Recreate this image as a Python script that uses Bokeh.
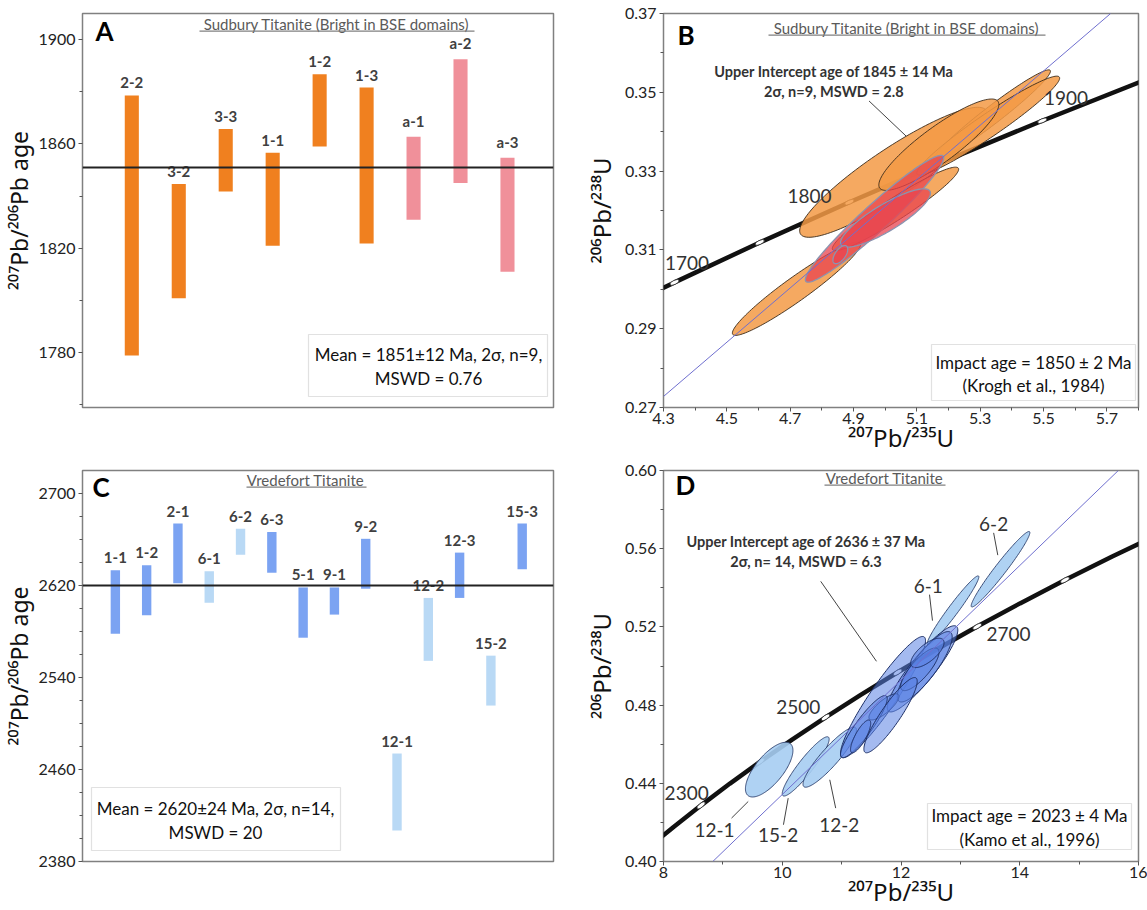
import numpy as np
from bokeh.plotting import figure
from bokeh.layouts import gridplot
from bokeh.models import Range1d, Label, BoxAnnotation, FixedTicker, ColumnDataSource, PrintfTickFormatter, Span
from bokeh.core.properties import value
from bokeh.embed import file_html
from bokeh.resources import INLINE

FONT = "Lato"
LABEL_FONT = "Noto Sans"

# ---------------- Panel A: Sudbury 207Pb/206Pb ages ----------------
a_labels = ["2-2", "3-2", "3-3", "1-1", "1-2", "1-3", "a-1", "a-2", "a-3"]
a_top = [1878.6, 1844.7, 1865.7, 1856.6, 1886.7, 1881.6, 1862.8, 1892.5, 1854.7]
a_bottom = [1778.9, 1800.9, 1841.8, 1821.0, 1859.0, 1821.9, 1831.0, 1845.0, 1811.0]
a_group = ["bright"] * 6 + ["other"] * 3
a_mean = 1851
a_yticks = [1780, 1820, 1860, 1900]

# ---------------- Panel C: Vredefort 207Pb/206Pb ages ----------------
c_labels = ["1-1", "1-2", "2-1", "6-1", "6-2", "6-3", "5-1", "9-1", "9-2",
            "12-1", "12-2", "12-3", "15-2", "15-3"]
c_top = [2633.3, 2637.6, 2673.9, 2632.5, 2669.4, 2666.5, 2618.3, 2618.3, 2660.6,
         2473.9, 2609.2, 2648.6, 2559.0, 2673.9]
c_bottom = [2578.0, 2594.2, 2622.0, 2605.0, 2646.7, 2631.1, 2574.6, 2594.7, 2617.2,
            2406.9, 2554.5, 2609.2, 2515.6, 2634.2]
c_group = ["main", "main", "main", "pale", "pale", "main", "main", "main", "main",
           "pale", "pale", "main", "pale", "main"]
c_mean = 2620
c_yticks = [2380, 2460, 2540, 2620, 2700]

# ---------------- Panel B: Sudbury concordia ----------------
b_con_age = [1650, 1700, 1750, 1800, 1850, 1900, 1950]
b_con_x = [4.0784, 4.3348, 4.6040, 4.8869, 5.1840, 5.4962, 5.8241]
b_con_y = [0.29170, 0.30175, 0.31189, 0.32210, 0.33240, 0.34278, 0.35323]
b_disc_x = [4.30, 5.712]
b_disc_y = [0.2728, 0.370]
# error ellipses: centre, half extent in x and y, correlation
b_cx = [4.720, 5.026, 5.3375, 5.3255, 5.1695, 5.0325, 4.9665, 5.001, 4.8585]
b_cy = [0.30015, 0.3297, 0.3442, 0.34155, 0.3367, 0.3204, 0.3179, 0.3181, 0.3088]
b_ex = [0.2025, 0.296, 0.1845, 0.2255, 0.1895, 0.1995, 0.2185, 0.142, 0.0235]
b_ey = [0.01185, 0.0165, 0.0115, 0.01255, 0.0116, 0.0106, 0.0161, 0.0074, 0.0023]
b_rho = [0.95, 0.90, 0.97, 0.96, 0.88, 0.95, 0.96, 0.85, 0.60]
b_kind = ["bright"] * 6 + ["other"] * 3
b_xticks = [4.3, 4.5, 4.7, 4.9, 5.1, 5.3, 5.5, 5.7]
b_yticks = [0.27, 0.29, 0.31, 0.33, 0.35, 0.37]

# ---------------- Panel D: Vredefort concordia ----------------
d_con_age = [2200, 2250, 2300, 2350, 2400, 2450, 2500, 2550, 2600, 2650, 2700, 2750, 2800, 2850, 2900]
d_con_x = [7.7292, 8.1699, 8.6327, 9.1188, 9.6295, 10.1660, 10.7297, 11.3218, 11.9438,
           12.5971, 13.2835, 14.0043, 14.7618, 15.5574, 16.3932]
d_con_y = [0.40674, 0.41769, 0.42873, 0.43986, 0.45107, 0.46237, 0.47375, 0.48523, 0.49679,
           0.50845, 0.52019, 0.53203, 0.54396, 0.55598, 0.56810]
d_disc_x = [8.83, 15.66]
d_disc_y = [0.40, 0.60]
d_cx = [9.78, 10.395, 10.80, 12.876, 13.676, 11.697, 12.3625, 12.3995, 12.317, 11.713, 11.3745, 11.32, 11.824, 12.444]
d_cy = [0.447, 0.44865, 0.45335, 0.5285, 0.5495, 0.4841, 0.49855, 0.4996, 0.4983, 0.4791, 0.469, 0.464, 0.47485, 0.5067]
d_ex = [0.40, 0.395, 0.45, 0.435, 0.494, 0.716, 0.5945, 0.4625, 0.323, 0.253, 0.3935, 0.17, 0.449, 0.281]
d_ey = [0.014, 0.01515, 0.01535, 0.0176, 0.0193, 0.031, 0.02205, 0.018, 0.0109, 0.0067, 0.0159, 0.0084, 0.01925, 0.0075]
d_rho = [0.70, 0.92, 0.90, 0.97, 0.97, 0.93, 0.90, 0.85, 0.80, 0.80, 0.90, 0.80, 0.90, 0.70]
d_kind = ["pale"] * 5 + ["main"] * 9
d_xticks = [8, 10, 12, 14, 16]
d_yticks = [0.40, 0.44, 0.48, 0.52, 0.56, 0.60]

COL = {"bright": "#F0801F", "other": "#F0909A", "main": "#7BA3F2", "pale": "#B9D9F5"}


def base_fig(w, h, xr, yr, borders, x_axis=True):
    l, r, t, b = borders
    p = figure(width=w, height=h, x_range=Range1d(*xr), y_range=Range1d(*yr),
               output_backend="svg", toolbar_location=None,
               x_axis_location="below" if x_axis else None,
               min_border_left=l, min_border_right=r, min_border_top=t, min_border_bottom=b)
    p.grid.visible = False
    p.outline_line_color = "#808080"
    p.outline_line_width = 1.5
    p.background_fill_color = "white"
    p.border_fill_color = "white"
    return p


def style_axis(ax, ticks, minor, fmt, label, tick_size=16, label_size=24, label_standoff=2):
    ax.ticker = FixedTicker(ticks=ticks, minor_ticks=minor)
    ax.formatter = PrintfTickFormatter(format=fmt)
    ax.axis_line_color = None
    ax.major_tick_line_color = "#555555"
    ax.minor_tick_line_color = "#555555"
    ax.major_tick_in = 0
    ax.major_tick_out = 4
    ax.minor_tick_in = 0
    ax.minor_tick_out = 3
    ax.major_label_text_font = FONT
    ax.major_label_text_font_size = f"{tick_size}px"
    ax.major_label_text_color = "#222222"
    ax.major_label_standoff = 3
    ax.axis_label = label
    ax.axis_label_text_font = LABEL_FONT
    ax.axis_label_text_font_size = f"{label_size}px"
    ax.axis_label_text_font_style = "normal"
    ax.axis_label_text_color = "#111111"
    ax.axis_label_standoff = label_standoff


def slabel(p, x, y, text, size, bold=False, color="#333333", align="center", baseline="middle", units="screen"):
    p.add_layout(Label(x=x, y=y, x_units=units, y_units=units, text=text, text_font=FONT,
                       text_font_size=f"{size}px", text_font_style="bold" if bold else "normal",
                       text_color=color, text_align=align, text_baseline=baseline))


def title_block(p, fh, letter, title, cx, x0, x1, letter_x):
    slabel(p, letter_x, fh - 5, letter, 26, bold=True, color="#000000", align="left", baseline="top")
    slabel(p, cx, fh - 14, title, 15, color="#5a5a5a")
    p.add_layout(BoxAnnotation(left=x0, right=x1, top=fh - 21, bottom=fh - 22.2,
                               left_units="screen", right_units="screen", top_units="screen",
                               bottom_units="screen", fill_color="#808080", fill_alpha=1.0,
                               line_color=None))


def text_box(p, left, right, bottom, top, lines, cx, ys, size=17):
    p.add_layout(BoxAnnotation(left=left, right=right, top=top, bottom=bottom,
                               left_units="screen", right_units="screen", top_units="screen",
                               bottom_units="screen", fill_color="white", fill_alpha=1.0,
                               line_color="#9a9a9a", line_width=1.2))
    for t, y in zip(lines, ys):
        slabel(p, cx, y, t, size, color="#111111")


def ellipse_xy(cx, cy, ex, ey, rho, n=140):
    t = np.linspace(0, 2 * np.pi, n)
    xs = cx + ex * np.cos(t)
    ys = cy + ey * (rho * np.cos(t) + np.sqrt(1 - rho ** 2) * np.sin(t))
    return xs, ys


def bar_panel(w, h, borders, labels, top, bottom, group, mean, yr, yticks, minor, letter, title, tpos, box):
    n = len(labels)
    p = base_fig(w, h, (-0.05, n + 0.98 if n == 9 else n + 1.0), yr, borders, x_axis=False)
    fh = h - borders[2] - borders[3]
    src = ColumnDataSource(dict(x=list(range(1, n + 1)), top=top, bottom=bottom,
                                color=[COL[g] for g in group], label=labels))
    p.vbar(x="x", top="top", bottom="bottom", width=0.3, fill_color="color", line_color=None, source=src)
    p.add_layout(Span(location=mean, dimension="width", line_color="#222222", line_width=2))
    p.text(x="x", y="top", text="label", source=src, text_font=value(FONT), text_font_size="15px",
           text_font_style="bold", text_color="#404040", text_align="center", text_baseline="bottom",
           y_offset=-7)
    style_axis(p.yaxis[0], yticks, minor, "%d", "²⁰⁷Pb/²⁰⁶Pb age", tick_size=16, label_size=23, label_standoff=0)
    title_block(p, fh, letter, title, *tpos)
    text_box(p, *box)
    return p


# Panel A
WA, HA, BA = 573, 458, (80, 20, 12, 48)
pA = bar_panel(WA, HA, BA, a_labels, a_top, a_bottom, a_group, a_mean, (1759, 1910),
               a_yticks, [1760, 1800, 1840, 1880],
               "A", "Sudbury Titanite (Bright in BSE domains)", (254, 117, 392, 13),
               (226, 465, 11, 73, ["Mean = 1851±12 Ma, 2σ, n=9,", "MSWD = 0.76"], 346, [53, 29]))

# Panel C
WC, HC, BC = 573, 452, (80, 20, 12, 44)
pC = bar_panel(WC, HC, BC, c_labels, c_top, c_bottom, c_group, c_mean, (2380, 2720),
               c_yticks, [2400, 2420, 2440, 2480, 2500, 2520, 2560, 2580, 2600, 2640, 2660, 2680],
               "C", "Vredefort Titanite", (223, 164, 284, 10),
               (9, 258, 11, 74, ["Mean = 2620±24 Ma, 2σ, n=14,", "MSWD = 20"], 133, [53, 29]))


def concordia_panel(w, h, borders, xr, yr, con_age, con_x, con_y, marker_step, disc_x, disc_y,
                    cx, cy, ex, ey, rho, kind, styles, xticks, xminor, yticks, yminor, xfmt, yfmt):
    p = base_fig(w, h, xr, yr, borders, x_axis=True)
    fw = w - borders[0] - borders[1]
    fh = h - borders[2] - borders[3]
    ppx = fw / (xr[1] - xr[0])
    ppy = fh / (yr[1] - yr[0])
    # concordia curve
    p.line(con_x, con_y, line_color="#111111", line_width=4.5)
    cxa, cya = np.array(con_x), np.array(con_y)
    ang = np.arctan2(np.gradient(cya) * ppy, np.gradient(cxa) * ppx)
    sel = [i for i, a in enumerate(con_age) if a % marker_step == 0]
    p.ellipse(x=[con_x[i] for i in sel], y=[con_y[i] for i in sel], angle=[float(ang[i]) for i in sel],
              width=10, height=4, width_units="screen", height_units="screen",
              fill_color="white", line_color="#222222", line_width=0.8)
    # error ellipses
    for k, st in styles.items():
        xs, ys = [], []
        for i in range(len(cx)):
            if kind[i] == k:
                ex_, ey_ = ellipse_xy(cx[i], cy[i], ex[i], ey[i], rho[i])
                xs.append(ex_)
                ys.append(ey_)
        p.patches(xs, ys, **st)
    # discordia
    p.line(disc_x, disc_y, line_color="#6f6fcf", line_width=1)
    style_axis(p.yaxis[0], yticks, yminor, yfmt, "²⁰⁶Pb/²³⁸U", tick_size=16, label_size=24, label_standoff=4)
    style_axis(p.xaxis[0], xticks, xminor, xfmt, "²⁰⁷Pb/²³⁵U", tick_size=16, label_size=24, label_standoff=-6)
    p.xaxis[0].major_label_standoff = 1
    return p, fw, fh


# Panel B
WB, HB, BB = 574, 458, (90, 9, 13, 51)
pB, fwB, fhB = concordia_panel(
    WB, HB, BB, (4.3, 5.8), (0.27, 0.37), b_con_age, b_con_x, b_con_y, 50, b_disc_x, b_disc_y,
    b_cx, b_cy, b_ex, b_ey, b_rho, b_kind,
    {"bright": dict(fill_color="#F39A45", fill_alpha=0.85, line_color="#3a2a1a", line_width=0.9),
     "other": dict(fill_color="#E8434F", fill_alpha=0.75, line_color="#8a94b0", line_width=1.3)},
    b_xticks, [4.4, 4.6, 4.8, 5.0, 5.2, 5.4, 5.6, 5.8],
    b_yticks, [0.28, 0.30, 0.32, 0.34, 0.36], "%.1f", "%.2f")
# annotations B
b_lab_txt = ["1700", "1800", "1900"]
b_lab_x = [4.374, 4.761, 5.571]
b_lab_y = [0.3067, 0.3236, 0.3486]
for t, x, y in zip(b_lab_txt, b_lab_x, b_lab_y):
    slabel(pB, x, y, t, 19, color="#333333", units="data")
slabel(pB, 4.838, 0.3554, "Upper Intercept age of 1845 ± 14 Ma", 14.5, bold=True, color="#333333", units="data")
slabel(pB, 4.838, 0.3503, "2σ, n=9, MSWD = 2.8", 14.5, bold=True, color="#333333", units="data")
b_lead_x0, b_lead_y0, b_lead_x1, b_lead_y1 = [4.949], [0.3478], [5.066], [0.3389]
pB.segment(b_lead_x0, b_lead_y0, b_lead_x1, b_lead_y1, line_color="#444444", line_width=1)
title_block(pB, fhB, "B", "Sudbury Titanite (Bright in BSE domains)", 243, 105, 382, 14)
text_box(pB, 268, 472, 7, 63, ["Impact age = 1850 ± 2 Ma", "(Krogh et al., 1984)"], 370, [45, 22])

# Panel D
WD, HD, BD = 574, 452, (90, 9, 9, 45)
pD, fwD, fhD = concordia_panel(
    WD, HD, BD, (8, 16), (0.40, 0.60), d_con_age, d_con_x, d_con_y, 100, d_disc_x, d_disc_y,
    d_cx, d_cy, d_ex, d_ey, d_rho, d_kind,
    {"pale": dict(fill_color="#A6CDF2", fill_alpha=0.9, line_color="#2a3d6b", line_width=0.9),
     "main": dict(fill_color="#5A82E4", fill_alpha=0.55, line_color="#1d2f66", line_width=1.0)},
    d_xticks, [9, 11, 13, 15],
    d_yticks, [0.42, 0.46, 0.50, 0.54, 0.58], "%d", "%.2f")
d_lab_txt = ["6-2", "6-1", "2700", "2500", "2300", "12-1", "15-2", "12-2"]
d_lab_x = [13.56, 12.46, 13.81, 10.27, 8.39, 8.86, 9.93, 10.96]
d_lab_y = [0.5724, 0.5408, 0.5164, 0.4790, 0.4350, 0.4162, 0.4137, 0.4188]
for t, x, y in zip(d_lab_txt, d_lab_x, d_lab_y):
    slabel(pD, x, y, t, 19, color="#333333", units="data")
slabel(pD, 10.40, 0.5638, "Upper Intercept age of 2636 ± 37 Ma", 14.5, bold=True, color="#333333", units="data")
slabel(pD, 10.40, 0.5536, "2σ, n= 14, MSWD = 6.3", 14.5, bold=True, color="#333333", units="data")
d_lead_x0 = [10.648, 13.56, 12.48, 9.146, 10.02, 10.90]
d_lead_y0 = [0.5433, 0.5681, 0.5365, 0.4222, 0.4188, 0.4273]
d_lead_x1 = [11.587, 13.63, 12.53, 9.427, 10.10, 10.80]
d_lead_y1 = [0.5024, 0.5567, 0.5232, 0.4307, 0.4324, 0.4418]
pD.segment(d_lead_x0, d_lead_y0, d_lead_x1, d_lead_y1, line_color="#444444", line_width=1)
title_block(pD, fhD, "D", "Vredefort Titanite", 221, 161, 282, 12)
text_box(pD, 264, 468, 12, 58, ["Impact age = 2023 ± 4 Ma", "(Kamo et al., 1996)"], 366, [46, 22])

grid = gridplot([[pA, pB], [pC, pD]], toolbar_location=None)
open("out.html", "w").write(file_html(grid, INLINE))
